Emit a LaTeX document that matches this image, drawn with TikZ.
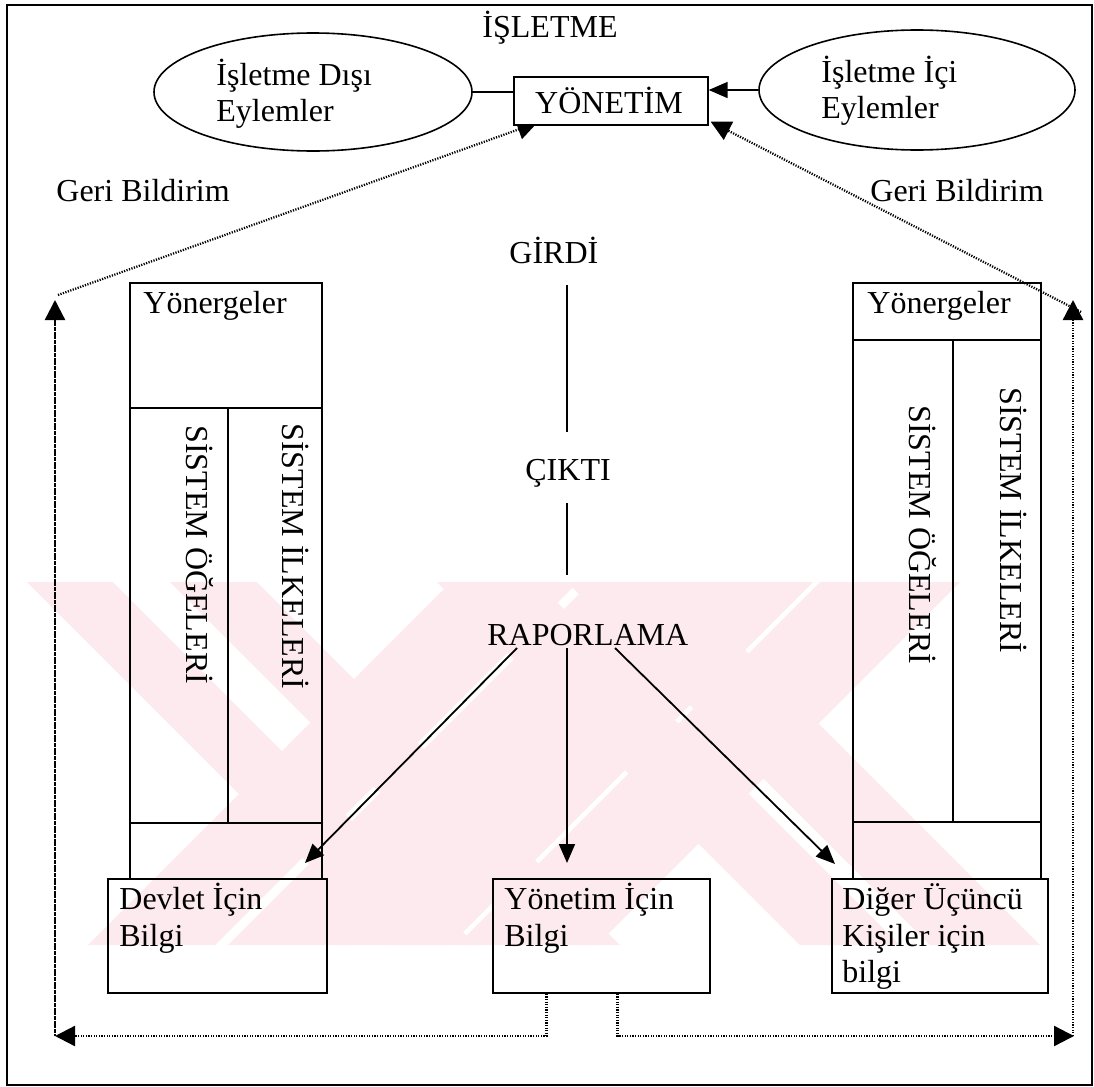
\documentclass[tikz,border=0pt]{standalone}
\usepackage{fontspec}
\setmainfont{Liberation Serif}
\usetikzlibrary{arrows.meta,shapes.geometric,fit,calc}
\pgfdeclarelayer{mark}
\pgfdeclarelayer{back}
\pgfsetlayers{mark,back,main}
\definecolor{markpink}{RGB}{252,234,239}

\tikzset{
  cell/.style={draw, line width=0.7pt, inner sep=0pt},
  oval/.style={draw, ellipse, line width=0.8pt, inner sep=0pt},
  lbl/.style={inner sep=0pt, anchor=base west},
  vlbl/.style={inner sep=0pt, anchor=base west, rotate=-90},
  solidarrow/.style={line width=0.9pt, -{Triangle[length=9.5pt,width=8pt]}},
  dotline/.style={line width=1.15pt, dash pattern=on 0.6pt off 0.7pt},
  dotarrow/.style={dotline, -{Triangle[length=10pt,width=10pt]}},
}

\begin{document}
\begin{tikzpicture}[x=0.5pt, y=-0.5pt, font=\fontsize{16}{18}\selectfont]
\useasboundingbox (0,0) rectangle (1094,1087);

% faint pink emblem behind the lower half
\begin{pgfonlayer}{mark}
  \begin{scope}
    \clip (0,582) rectangle (1094,945);
    % stripes falling to the right: top edge from a to b
    \foreach \a/\b in {27/113, 170/257, 437/537, 567/677}
      \fill[markpink] (\a,582) -- (\b,582) -- (\b+363,945) -- (\a+363,945) -- cycle;
    % stripes rising to the right: top edge from a to b
    \foreach \a/\b in {451/578, 591/716, 697/813, 820/960}
      \fill[markpink] (\a,582) -- (\b,582) -- (\b-363,945) -- (\a-363,945) -- cycle;
  \end{scope}
\end{pgfonlayer}

% outer frame
\node[cell, fit={(7,5) (1092,1085)}] (frame) {};
\node[inner sep=0pt, anchor=base] (isl) at (550,37) {İŞLETME};

% management box and the two activity ovals
\node[cell, fill=white, fit={(514,77) (708,125)}] (yon) {};
\node[inner sep=0pt, anchor=base] (yont) at (609,113) {YÖNETİM};
\node[oval, minimum width=159pt, minimum height=59pt] (disE) at (313,92) {};
\node[lbl] (dis1) at (216,85) {İşletme Dışı};
\node[lbl] (dis2) at (216,121) {Eylemler};
\node[oval, minimum width=158pt, minimum height=60pt] (icE) at (917,90) {};
\node[lbl] (ic1) at (821,82) {İşletme İçi};
\node[lbl] (ic2) at (821,118) {Eylemler};

\draw[line width=0.9pt] (disE.east) -- (disE.east -| yon.west);
\draw[solidarrow] (icE.west) -- (icE.west -| yon.east);

% feedback labels
\node[lbl] (gbL) at (56,201) {Geri Bildirim};
\node[lbl] (gbR) at (870,201) {Geri Bildirim};

% left column
\node[cell, fit={(130,283) (322,408)}] (yL) {};
\node[cell, fit={(130,408) (228,823)}] (oL) {};
\node[cell, fit={(228,408) (322,823)}] (iL) {};
\node[cell, fit={(130,823) (322,879)}] (bL) {};
\node[lbl] (yLt) at (143,313) {Yönergeler};
\node[vlbl] (oLt) at (186,425) {SİSTEM ÖĞELERİ};
\node[vlbl] (iLt) at (282,423) {SİSTEM İLKELERİ};

% right column
\node[cell, fit={(853,283) (1041,340)}] (yR) {};
\node[cell, fit={(853,340) (953,822)}] (oR) {};
\node[cell, fit={(953,340) (1041,822)}] (iR) {};
\node[cell, fit={(853,822) (1041,879)}] (bR) {};
\node[lbl] (yRt) at (867,313) {Yönergeler};
\node[vlbl] (oRt) at (909,405) {SİSTEM ÖĞELERİ};
\node[vlbl] (iRt) at (1000,387) {SİSTEM İLKELERİ};

% information boxes
\node[cell, fit={(108,879) (327,993)}] (dev) {};
\node[lbl] (dev1) at (119,909) {Devlet İçin};
\node[lbl] (dev2) at (119,946) {Bilgi};
\node[cell, fit={(493,879) (710,993)}] (ymi) {};
\node[lbl] (ymi1) at (504,909) {Yönetim İçin};
\node[lbl] (ymi2) at (504,946) {Bilgi};
\node[cell, fit={(832,879) (1048,993)}] (dig) {};
\node[lbl] (dig1) at (842,909) {Diğer Üçüncü};
\node[lbl] (dig2) at (842,946) {Kişiler için};
\node[lbl] (dig3) at (842,982) {bilgi};

% input - output - reporting flow
\node[lbl] (girdi) at (509,263) {GİRDİ};
\node[lbl] (cikti) at (525,480) {ÇIKTI};
\node[lbl] (rap) at (487,645) {RAPORLAMA};
\coordinate (g1) at (567,285);
\coordinate (g2) at (567,432);
\coordinate (c1) at (567,503);
\coordinate (c2) at (567,575);
\draw[line width=0.9pt] (g1) -- (g2);
\draw[line width=0.9pt] (c1) -- (c2);

\coordinate (r1) at (517,648);
\coordinate (r2) at (567,648);
\coordinate (r3) at (615,648);
\coordinate (e1) at (305,863);
\coordinate (e2) at (567,863);
\coordinate (e3) at (835,864);
\draw[solidarrow] (r1) -- (e1);
\draw[solidarrow] (r2) -- (e2);
\draw[solidarrow] (r3) -- (e3);

% feedback loop
\coordinate (lcorner) at (55,1036);
\coordinate (rcorner) at (1074,1036);
\coordinate (ltop) at (55,300);
\coordinate (rtop) at (1073,300);
\draw[dotarrow] ($(ymi.south)+(-55,0)$) |- (lcorner);
\draw[dotarrow] ($(ymi.south)+(16,0)$) |- (rcorner);
\draw[dotline] (lcorner) -- ($(ltop)+(0,18)$);
\draw[dotarrow] ($(lcorner)+(0,-1)$) -- (ltop);
\draw[dotarrow] ($(rcorner)+(-1,0)$) -- (rtop);
\begin{pgfonlayer}{back}
  \draw[dotarrow] ($(ltop)+(3,-5)$) -- ($(yon.south west)+(24,-3)$);
  \draw[dotarrow] ($(rtop)+(8,12)$) -- ($(yon.south east)+(2,-4)$);
\end{pgfonlayer}
\end{tikzpicture}
\end{document}
